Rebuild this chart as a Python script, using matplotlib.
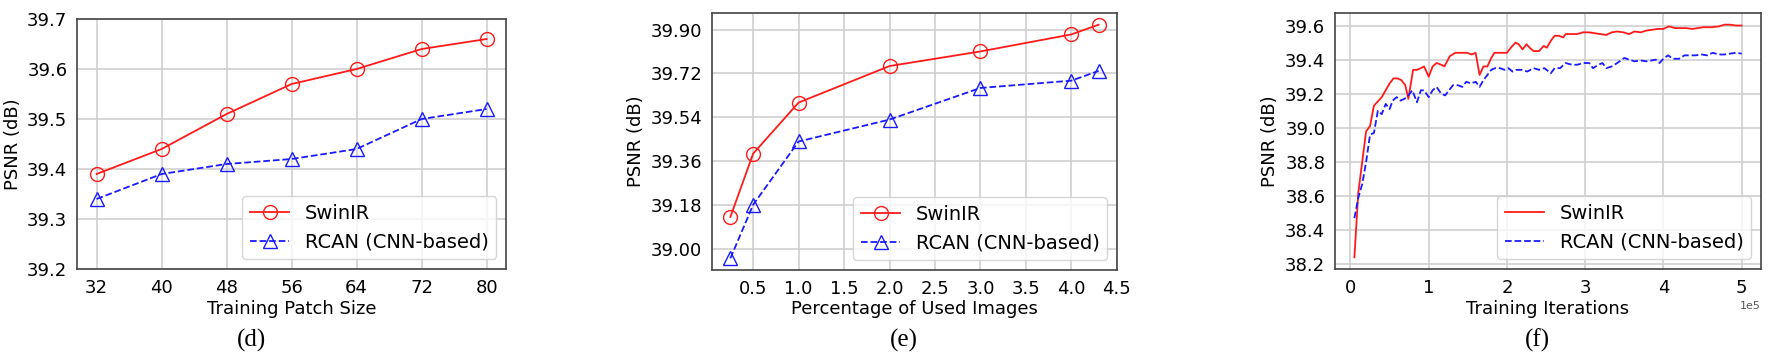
import numpy as np
import matplotlib
matplotlib.use("Agg")
import matplotlib.pyplot as plt

# === DATA ===
# (d) training patch size
patch_sizes = [32, 40, 48, 56, 64, 72, 80]
patch_swinir = [39.39, 39.44, 39.51, 39.57, 39.60, 39.64, 39.66]
patch_rcan = [39.34, 39.39, 39.41, 39.42, 39.44, 39.50, 39.52]

# (e) percentage of used images
used_pct = [0.25, 0.5, 1.0, 2.0, 3.0, 4.0, 4.3]
used_swinir = [39.13, 39.39, 39.60, 39.75, 39.81, 39.88, 39.92]
used_rcan = [38.96, 39.18, 39.44, 39.53, 39.66, 39.69, 39.73]
used_yticks = [39.00, 39.18, 39.36, 39.54, 39.72, 39.90]

# (f) training iterations (in thousands)
iters_swinir_k = [5, 10, 20, 25, 30, 36, 40, 45, 50, 55, 60, 65, 70, 74, 80, 85,
                  90, 94, 100, 105, 110, 116, 120, 127, 134, 141, 149, 155, 160,
                  165, 170, 175, 180, 184, 192, 200, 205, 211, 215, 220, 225, 229,
                  234, 241, 247, 251, 256, 261, 266, 272, 275, 283, 290, 297, 305,
                  312, 319, 327, 334, 341, 349, 356, 363, 371, 378, 385, 393, 400,
                  407, 415, 422, 429, 437, 444, 451, 461, 471, 478, 485, 493, 500]
psnr_swinir = [38.24, 38.62, 38.98, 39.01, 39.13, 39.16, 39.18, 39.22, 39.26, 39.29,
               39.29, 39.28, 39.25, 39.17, 39.34, 39.34, 39.35, 39.36, 39.30, 39.36,
               39.38, 39.37, 39.36, 39.42, 39.44, 39.44, 39.44, 39.43, 39.44, 39.31,
               39.36, 39.36, 39.41, 39.44, 39.44, 39.44, 39.47, 39.50, 39.49, 39.46,
               39.49, 39.47, 39.45, 39.45, 39.48, 39.47, 39.51, 39.54, 39.54, 39.53,
               39.55, 39.55, 39.55, 39.56, 39.56, 39.555, 39.55, 39.545, 39.56,
               39.565, 39.56, 39.55, 39.565, 39.56, 39.57, 39.575, 39.58, 39.58,
               39.595, 39.585, 39.585, 39.585, 39.58, 39.585, 39.59, 39.59, 39.595,
               39.605, 39.605, 39.60, 39.60]

iters_rcan_k = [5, 10, 15, 20, 25, 30, 35, 40, 45, 50, 54, 59, 64, 69, 74, 79, 85,
                90, 94, 100, 105, 110, 116, 121, 126, 131, 137, 143, 148, 154, 160,
                165, 170, 175, 180, 185, 191, 197, 202, 207, 212, 219, 226, 234, 241,
                248, 256, 261, 268, 275, 283, 290, 297, 305, 310, 317, 322, 327, 334,
                341, 350, 356, 363, 371, 378, 385, 390, 395, 401, 406, 412, 420, 427,
                434, 441, 449, 456, 463, 471, 478, 485, 493, 500]
psnr_rcan = [38.47, 38.59, 38.67, 38.80, 38.96, 38.97, 39.10, 39.08, 39.14, 39.11,
             39.16, 39.18, 39.16, 39.17, 39.19, 39.22, 39.15, 39.22, 39.22, 39.18,
             39.22, 39.24, 39.20, 39.19, 39.22, 39.25, 39.25, 39.24, 39.27, 39.26,
             39.27, 39.24, 39.28, 39.31, 39.34, 39.35, 39.35, 39.34, 39.35, 39.33,
             39.34, 39.34, 39.33, 39.35, 39.34, 39.35, 39.32, 39.35, 39.35, 39.38,
             39.37, 39.37, 39.38, 39.38, 39.35, 39.37, 39.38, 39.35, 39.36, 39.38,
             39.41, 39.40, 39.39, 39.395, 39.39, 39.395, 39.40, 39.38, 39.41, 39.425,
             39.405, 39.405, 39.425, 39.425, 39.425, 39.43, 39.425, 39.44, 39.43,
             39.43, 39.435, 39.44, 39.435]
iter_ticks = [0, 1e5, 2e5, 3e5, 4e5, 5e5]

RED = "#ff1a1a"
BLUE = "#1a1aff"
FS = 13

plt.rcParams["font.family"] = "DejaVu Sans"
plt.rcParams["font.size"] = FS

fig = plt.figure(figsize=(17.72, 3.61), dpi=100)
ax_d = fig.add_axes([0.0435, 0.2548, 0.2421, 0.6925])
ax_e = fig.add_axes([0.4018, 0.2521, 0.2286, 0.7119])
ax_f = fig.add_axes([0.7534, 0.2548, 0.2404, 0.7091])


def style_axes(ax):
    ax.grid(True, color="#cfcfcf", linewidth=1.2)
    ax.set_axisbelow(True)
    for sp in ax.spines.values():
        sp.set_color("#444444")
        sp.set_linewidth(1.2)
    ax.tick_params(labelsize=FS, length=0, pad=7)
    ax.set_ylabel("PSNR (dB)", fontsize=FS)


# (d)
ax_d.plot(patch_sizes, patch_swinir, "-", color=RED, lw=1.3, marker="o",
          ms=10, mfc="none", mec=RED, mew=1.0, label="SwinIR")
ax_d.plot(patch_sizes, patch_rcan, "--", color=BLUE, lw=1.3, marker="^",
          ms=10, mfc="none", mec=BLUE, mew=1.0, label="RCAN (CNN-based)")
ax_d.set_xticks(patch_sizes)
ax_d.set_ylim(39.2, 39.7)
ax_d.set_yticks([39.2, 39.3, 39.4, 39.5, 39.6, 39.7])
ax_d.set_xlabel("Training Patch Size", fontsize=FS, labelpad=2)
style_axes(ax_d)
ax_d.legend(loc="lower right", fontsize=14)

# (e)
ax_e.plot(used_pct, used_swinir, "-", color=RED, lw=1.3, marker="o",
          ms=10, mfc="none", mec=RED, mew=1.0, label="SwinIR")
ax_e.plot(used_pct, used_rcan, "--", color=BLUE, lw=1.3, marker="^",
          ms=10, mfc="none", mec=BLUE, mew=1.0, label="RCAN (CNN-based)")
ax_e.set_yticks(used_yticks)
ax_e.set_yticklabels([f"{v:.2f}" for v in used_yticks])
ax_e.set_xticks([0.5, 1.0, 1.5, 2.0, 2.5, 3.0, 3.5, 4.0, 4.5])
ax_e.set_xlabel("Percentage of Used Images", fontsize=FS, labelpad=2)
style_axes(ax_e)
ax_e.legend(loc="lower right", fontsize=14)

# (f)
ax_f.plot(np.array(iters_swinir_k) * 1000, psnr_swinir, "-", color=RED,
          lw=1.3, label="SwinIR")
ax_f.plot(np.array(iters_rcan_k) * 1000, psnr_rcan, "--", color=BLUE,
          lw=1.3, label="RCAN (CNN-based)")
ax_f.set_xticks(iter_ticks)
ax_f.ticklabel_format(style="sci", axis="x", scilimits=(0, 0))
ax_f.set_yticks([38.2, 38.4, 38.6, 38.8, 39.0, 39.2, 39.4, 39.6])
ax_f.set_xlabel("Training Iterations", fontsize=FS, labelpad=2)
style_axes(ax_f)
ax_f.xaxis.get_offset_text().set_fontsize(8)
ax_f.xaxis.get_offset_text().set_color("#555555")
ax_f.legend(loc="lower right", fontsize=14)

# panel captions
for x_px, s in [(252, "(d)"), (904, "(e)"), (1537, "(f)")]:
    fig.text(x_px / 1772, 1 - 340 / 361, s, ha="center", va="center",
             fontsize=18, family="Liberation Serif")

fig.savefig("out.png", dpi=100)
